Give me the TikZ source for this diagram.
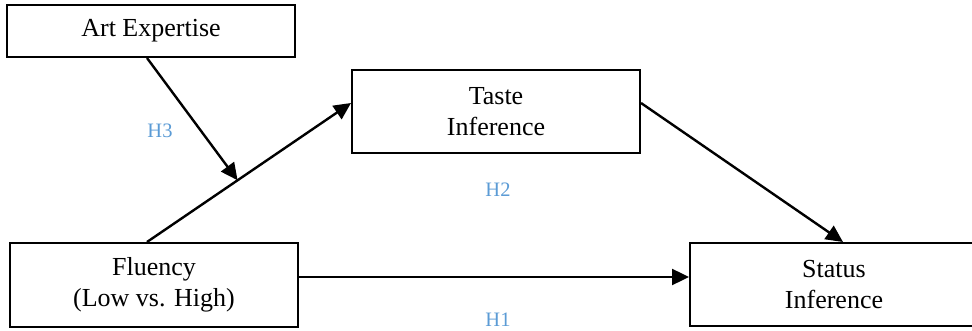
\documentclass[tikz,border=0pt]{standalone}
\usepackage{fontspec}
\setmainfont{Liberation Serif}
\usetikzlibrary{arrows.meta,calc}
\definecolor{hblue}{HTML}{5B9BD5}
\begin{document}
\begin{tikzpicture}[x=1pt,y=-1pt,
  box/.style={draw=black,line width=2pt,minimum width=288pt,inner sep=0pt,align=center,
    font={\fontsize{26}{31}\selectfont}},
  conn/.style={line width=2.4pt,-{Triangle[length=17pt,width=16pt]}},
  hlabel/.style={text=hblue,font={\fontsize{20.5}{24}\selectfont},inner sep=0pt}]
\useasboundingbox (0,0) rectangle (972,331);
\node[box,minimum height=52pt] (art) at (151,31) {Art Expertise};
\node[box,minimum height=83pt] (taste) at (496,111.5) {Taste\\Inference};
\node[box,minimum height=84pt] (flu) at (154,285) {Fluency\\(Low vs. High)};
\node[box,minimum height=83pt] (status) at (834,284.5) {Status\\Inference};
\coordinate (fs) at ($(flu.north)+(-7,0)$);
\coordinate (te) at ($(taste.west)+(0,-8.5)$);
\draw[conn] (fs) -- (te);
\coordinate (mod) at ($(fs)!0.444!(te)$);
\draw[conn] ($(art.south)+(-4,0)$) -- (mod);
\draw[conn] ($(taste.east)+(0,-8.5)$) -- ($(status.north)+(9,0)$);
\draw[conn] ($(flu.east)+(0,-8)$) -- ($(status.west)+(0,-7.5)$);
\node[hlabel] (h3) at (160,131) {H3};
\node[hlabel] (h2) at (498,190) {H2};
\node[hlabel] (h1) at (498,320) {H1};
\end{tikzpicture}
\end{document}
